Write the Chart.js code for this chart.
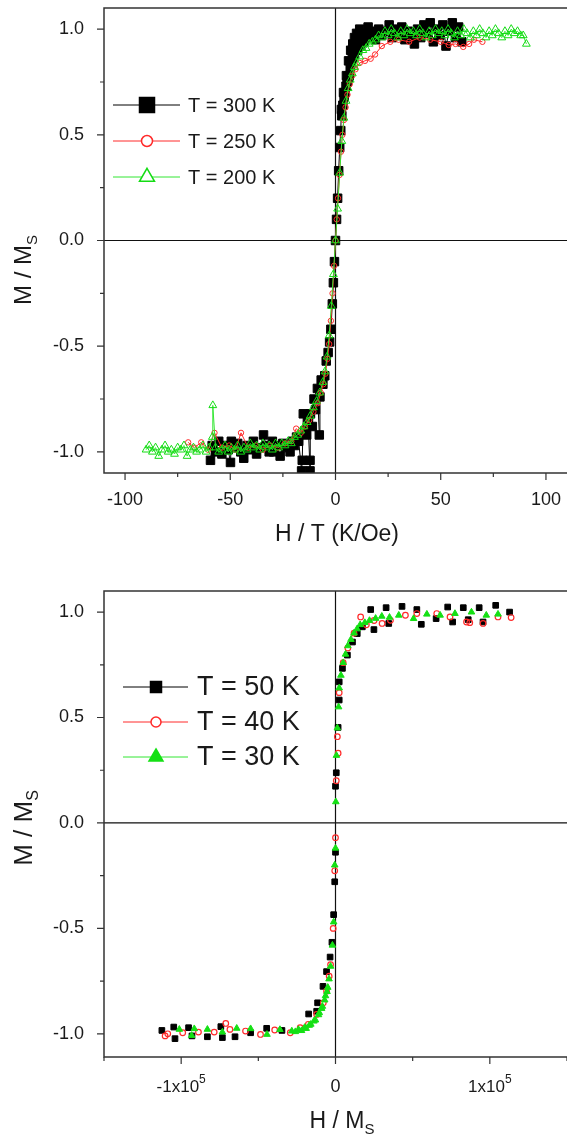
<!DOCTYPE html>
<html>
<head>
<meta charset="utf-8">
<script src="https://cdn.jsdelivr.net/npm/chart.js@4.4.1/dist/chart.umd.min.js"></script>
<style>
  html, body { margin: 0; padding: 0; background: #fff; }
  #wrap { position: relative; width: 567px; height: 1137px; overflow: hidden; }
  .box { position: absolute; left: 0; width: 567px; }
  #top { top: 0; height: 560px; }
  #bottom { top: 560px; height: 577px; }
</style>
</head>
<body>
<div id="wrap">
  <div class="box" id="top"><canvas id="chartTop"></canvas></div>
  <div class="box" id="bottom"><canvas id="chartBottom"></canvas></div>
</div>
<script>
const FONT = "'Liberation Sans', Arial, sans-serif";

// ---- panel a : M/Ms vs H/T ----
const topLabels = ['T = 300 K', 'T = 250 K', 'T = 200 K'];

const t300 = [[-59.4,-1.04],[-58.6,-0.97],[-57,-1.0],[-55.5,-0.95],[-54,-1.01],[-52.5,-0.97],[-51,-0.99],[-49.9,-1.05],[-49.5,-0.95],[-48,-0.98],
  [-46.5,-0.96],[-45,-1.0],[-43.6,-1.03],[-42,-0.97],[-40.5,-0.99],[-39,-0.95],[-37.5,-1.01],[-36,-0.98],[-34.2,-0.92],[-33,-0.97],
  [-31.5,-1.0],[-30,-0.95],[-29.4,-1.0],[-28,-0.97],[-26.3,-1.02],[-25,-0.96],[-23.5,-0.98],[-21.6,-1.0],[-20.5,-0.95],[-19.5,-0.97],
  [-18.5,-0.93],[-17.5,-0.95],[-16.1,-1.09],[-15.8,-1.04],[-15.3,-0.82],[-14.5,-0.9],[-13.7,-0.92],[-13,-0.86],[-12.1,-1.09],[-12.1,-1.04],
  [-11.9,-0.82],[-11,-0.88],[-10.2,-0.75],[-9.5,-0.8],[-8.6,-0.7],[-7.7,-0.92],[-7.4,-0.74],[-6.8,-0.66],[-6,-0.68],[-5.1,-0.64],
  [-4.4,-0.57],[-3.5,-0.53],[-2.8,-0.48],[-2.2,-0.42],[-1.5,-0.3],[-1,-0.2],[-0.5,-0.1],[0,0],[0.5,0.1],[1,0.2],
  [1.5,0.33],[2,0.44],[2.5,0.52],[2.8,0.62],[3,0.59],[3.5,0.64],[3.8,0.7],[4.1,0.68],[4.5,0.7],[5,0.73],[5.2,0.78],[5.5,0.75],[6,0.77],
  [6.2,0.85],[6.5,0.78],[7,0.82],[7.2,0.9],[7.5,0.84],[8,0.86],[8.2,0.93],[8.8,0.88],[9,0.96],[9.6,0.93],[10,0.98],[10.5,0.9],[11,0.95],[11.5,1.0],[12,0.92],[12.5,0.97],
  [13.5,0.94],[14.4,0.98],[15.5,1.01],[16.5,0.96],[17.5,0.99],[19,0.95],[20.5,1.0],[22,0.97],[24,0.99],[25.5,1.02],
  [27,0.96],[28.5,1.0],[30,0.97],[31.5,1.01],[33,0.95],[34.5,0.99],[36,0.97],[37.5,0.93],[39,1.0],[40.5,0.96],
  [42,1.02],[43.5,0.98],[45,1.03],[46.5,0.94],[48,1.0],[49.5,0.97],[51,1.02],[52.5,0.92],[54,0.99],[55.5,1.03],
  [57,0.96],[58.5,1.01],[60,0.94]];

const t250 = [[-70,-0.955],[-67,-0.98],[-63.8,-0.955],[-60.5,-0.99],[-57.5,-0.91],[-54,-0.98],[-50.5,-0.97],[-47.5,-0.99],[-44.9,-0.91],[-41.5,-0.98],
  [-38,-0.97],[-34.5,-0.99],[-31,-0.97],[-27.5,-0.98],[-24,-0.96],[-21,-0.95],[-18.7,-0.89],[-16.5,-0.91],[-14.5,-0.88],[-12.5,-0.85],
  [-10.5,-0.81],[-8.5,-0.77],[-7,-0.72],[-5.8,-0.68],[-4.8,-0.63],[-3.8,-0.56],[-3,-0.49],[-2.2,-0.38],[-1.4,-0.25],[-0.7,-0.12],
  [0,0],[0.6,0.1],[1.2,0.2],[1.9,0.31],[2.6,0.42],[3.3,0.5],[4,0.57],[4.8,0.63],[5.7,0.69],[6.8,0.74],
  [8,0.78],[9.5,0.81],[11.5,0.84],[14,0.85],[16.7,0.86],[18.8,0.88],[22,0.92],[26,0.94],[30,0.95],[35,0.94],
  [40,0.96],[45,0.95],[50,0.94],[53.8,0.925],[57,0.93],[60.7,0.916],[63.5,0.93],[65.8,0.95],[69.8,0.94]];

const t200 = [[-90,-0.99],[-88.5,-0.97],[-87,-1.0],[-85.5,-0.98],[-84,-1.02],[-82.5,-0.99],[-81,-0.97],[-79.5,-1.0],[-78,-0.99],[-76.5,-1.01],
  [-75,-0.98],[-73.5,-0.99],[-72,-0.97],[-70.5,-1.02],[-69,-0.99],[-67.5,-0.98],[-66,-1.0],[-64.5,-0.99],[-63,-0.97],[-61.5,-1.0],
  [-60,-0.98],[-58.5,-0.93],[-58.3,-0.78],[-57,-0.98],[-55.5,-1.0],[-54,-0.99],[-52.5,-0.97],[-51,-1.0],[-49.5,-0.98],[-48,-0.99],
  [-46.5,-0.97],[-45,-1.0],[-43.5,-0.98],[-42,-0.99],[-40.5,-0.96],[-39,-0.98],[-37.5,-0.97],[-36,-0.99],[-34.5,-0.96],[-33,-0.98],
  [-31.5,-0.97],[-30,-0.99],[-28.5,-0.96],[-27,-0.98],[-25.5,-0.96],[-24,-0.97],[-22.5,-0.95],[-21,-0.96],[-19.5,-0.93],[-18,-0.92],
  [-16.5,-0.9],[-15,-0.88],[-13.5,-0.86],[-12,-0.83],[-10.5,-0.79],[-9,-0.76],[-7.5,-0.72],[-6,-0.67],[-5,-0.62],[-4,-0.55],
  [-3,-0.45],[-2,-0.31],[-1,-0.16],[0,0],[1,0.15],[2,0.32],[3,0.47],[4,0.58],[5,0.66],[6,0.72],
  [7,0.76],[8,0.79],[9,0.82],[10,0.84],[11.5,0.87],[13,0.9],[14.5,0.91],[16,0.93],[17.5,0.94],[19,0.95],
  [20.5,0.97],[22,0.96],[23.5,0.99],[25,0.97],[26.5,1.0],[28,0.98],[29.5,0.96],[31,0.99],[32.5,0.97],[34,1.0],
  [35.5,0.98],[37,0.99],[38.5,0.97],[40,1.0],[41.5,0.98],[43,0.96],[44.5,0.99],[46,0.97],[47.5,1.0],[49,0.98],
  [50.5,0.99],[52,0.97],[53.5,1.0],[55,0.98],[56.5,0.96],[58,0.99],[59.5,0.97],[61,1.0],[62.5,0.98],[64,0.96],
  [65.5,0.99],[67,0.97],[68.5,1.0],[70,0.98],[71.5,0.96],[73,0.99],[74.5,0.97],[76,1.0],[77.5,0.98],[79,0.96],
  [80.5,0.99],[82,0.97],[83.5,1.0],[85,0.98],[86.5,0.99],[88,0.97],[89.2,0.97],[90.7,0.93]];

const topXTicks = [-100, -75, -50, -25, 0, 25, 50, 75, 100];
const topXMajor = [-100, -50, 0, 50, 100];

// ---- panel b : M/Ms vs H/Ms ----
const bottomLabels = ['T = 50 K', 'T = 40 K', 'T = 30 K'];

const t50 = [[-112500,-0.984],[-104800,-0.968],[-104000,-1.023],[-95200,-0.971],[-93000,-1.01],[-83000,-1.014],[-74300,-0.966],[-73300,-1.018],[-65100,-1.014],[-55000,-0.995],
  [-44600,-0.974],[-34700,-0.984],[-17400,-0.906],[-12200,-0.893],[-11600,-0.853],[-8100,-0.775],[-5800,-0.705],[-3500,-0.636],[-2300,-0.566],[-1200,-0.435],
  [-500,-0.279],[0,-0.139],[0,0.174],[500,0.238],[1700,0.453],[2400,0.583],[2400,0.669],[4500,0.733],[7700,0.796],[11000,0.858],
  [14100,0.898],[17400,0.93],[22800,1.012],[24900,0.917],[32800,1.021],[34500,0.946],[43100,1.027],[52700,1.012],[55600,0.942],[65200,0.969],
  [72700,1.024],[75900,0.953],[82800,1.021],[86000,0.964],[93100,1.021],[95600,0.953],[103800,1.032],[112800,1.0]];

const t40 = [[-110400,-1.01],[-108700,-1.0],[-99000,-0.995],[-88800,-0.992],[-78600,-0.992],[-71100,-0.951],[-68400,-0.979],[-58300,-0.987],[-48600,-1.003],[-39400,-0.982],
  [-29300,-0.995],[-22900,-0.971],[-17600,-0.955],[-12200,-0.908],[-7900,-0.853],[-5800,-0.798],[-4100,-0.727],[-3200,-0.672],[-1500,-0.5],[-500,-0.227],
  [0,-0.07],[500,0.2],[1200,0.409],[1700,0.331],[2400,0.618],[5000,0.76],[8000,0.83],[12000,0.9],[16300,0.977],[20000,0.94],
  [25000,0.96],[30200,0.946],[35600,0.961],[45300,0.985],[52700,0.993],[65600,0.993],[74200,0.977],[84900,0.953],[87000,0.95],[95600,0.946],
  [105300,0.977],[113800,0.974]];

const t30 = [[-101200,-0.979],[-93200,-1.008],[-91500,-0.976],[-83000,-0.979],[-73300,-0.992],[-64000,-0.974],[-55000,-0.976],[-44400,-1.003],[-36000,-0.98],[-28300,-0.987],
  [-26000,-0.99],[-24000,-0.98],[-22000,-0.985],[-20000,-0.97],[-19000,-0.975],[-17000,-0.96],[-16000,-0.955],[-14000,-0.94],[-13000,-0.935],[-11000,-0.91],
  [-10500,-0.9],[-9000,-0.88],[-8500,-0.87],[-7000,-0.84],[-6500,-0.82],[-5500,-0.8],[-5000,-0.78],[-4200,-0.74],[-3200,-0.68],[-2000,-0.58],
  [-1200,-0.47],[-500,-0.2],[0,-0.12],[200,0.1],[600,0.32],[1200,0.45],[2000,0.55],[2400,0.64],[3500,0.7],[5000,0.76],
  [6500,0.8],[8000,0.84],[10000,0.87],[12000,0.9],[14000,0.92],[16000,0.94],[19000,0.95],[22000,0.96],[26000,0.97],[30000,0.98],
  [35000,0.975],[41000,0.985],[50600,0.969],[59200,0.99],[67800,0.985],[77400,0.993],[88100,1.0],[97700,0.985],[105300,0.99]];

const bottomXTicks = [-150000, -100000, -50000, 0, 50000, 100000, 150000];
const bottomXMajor = [-100000, 0, 100000];

const yTicks = [-1, -0.75, -0.5, -0.25, 0, 0.25, 0.5, 0.75, 1];
const yMajor = [-1, -0.5, 0, 0.5, 1];

function toPts(arr) {
  return arr.map(([x, y]) => ({ x, y }));
}

// texto con subindices / superindices
function drawRich(ctx, parts, x, y, align) {
  let w = 0;
  parts.forEach(p => { ctx.font = p.s + 'px ' + FONT; w += ctx.measureText(p.t).width; });
  let cx = align === 'center' ? x - w / 2 : x;
  ctx.textAlign = 'left';
  ctx.textBaseline = 'alphabetic';
  parts.forEach(p => {
    ctx.font = p.s + 'px ' + FONT;
    ctx.fillText(p.t, cx, y + (p.dy || 0));
    cx += ctx.measureText(p.t).width;
  });
}

function drawMarker(ctx, style, x, y, size, color, filled) {
  ctx.beginPath();
  if (style === 'rect') {
    ctx.rect(x - size / 2, y - size / 2, size, size);
  } else if (style === 'circle') {
    ctx.arc(x, y, size / 2, 0, Math.PI * 2);
  } else {
    const h = size * 0.866;
    ctx.moveTo(x, y - h * 2 / 3);
    ctx.lineTo(x + size / 2, y + h / 3);
    ctx.lineTo(x - size / 2, y + h / 3);
    ctx.closePath();
  }
  ctx.fillStyle = filled ? color : '#fff';
  ctx.fill();
  ctx.strokeStyle = color;
  ctx.lineWidth = 1.5;
  ctx.stroke();
}

const framePlugin = {
  id: 'frame',
  beforeDatasetsDraw(chart) {
    const { ctx, chartArea: a, scales } = chart;
    const x0 = scales.x.getPixelForValue(0);
    const y0 = scales.y.getPixelForValue(0);
    ctx.save();
    ctx.strokeStyle = '#111';
    ctx.lineWidth = 1.2;
    ctx.beginPath();
    ctx.moveTo(x0, a.top); ctx.lineTo(x0, a.bottom);
    ctx.moveTo(a.left, y0); ctx.lineTo(a.right, y0);
    ctx.stroke();
    ctx.restore();
  },
  afterDraw(chart, args, o) {
    const { ctx, chartArea: a, scales } = chart;
    ctx.save();
    // marco
    ctx.strokeStyle = '#333';
    ctx.lineWidth = 1.5;
    ctx.beginPath();
    ctx.moveTo(a.right + 2, a.top); ctx.lineTo(a.left, a.top);
    ctx.lineTo(a.left, a.bottom); ctx.lineTo(a.right + 2, a.bottom);
    ctx.stroke();

    // marcas de los ejes
    ctx.lineWidth = 1.2;
    ctx.beginPath();
    scales.x.ticks.forEach(t => {
      const px = scales.x.getPixelForValue(t.value);
      const len = o.xMajor.includes(t.value) ? 7 : 4;
      ctx.moveTo(px, a.bottom); ctx.lineTo(px, a.bottom + len);
    });
    scales.y.ticks.forEach(t => {
      const py = scales.y.getPixelForValue(t.value);
      const len = yMajor.includes(t.value) ? 7 : 4;
      ctx.moveTo(a.left, py); ctx.lineTo(a.left - len, py);
    });
    ctx.stroke();

    ctx.fillStyle = '#1a1a1a';
    // etiquetas x en notacion cientifica
    if (o.sciLabels) {
      scales.x.ticks.forEach(t => {
        if (!o.xMajor.includes(t.value)) return;
        const px = scales.x.getPixelForValue(t.value);
        let parts;
        if (t.value === 0) {
          parts = [{ t: '0', s: 18 }];
        } else {
          const e = Math.round(Math.log10(Math.abs(t.value)));
          const m = Math.abs(t.value) / Math.pow(10, e);
          parts = [{ t: (t.value < 0 ? '-' : '') + m + 'x10', s: 17 }, { t: String(e), s: 12, dy: -9 }];
        }
        drawRich(ctx, parts, px, o.sciY, 'center');
      });
    }

    // titulos de los ejes
    drawRich(ctx, o.xTitle, o.xTitleX, o.xTitleY, 'center');
    ctx.save();
    ctx.translate(o.yTitleX, o.yTitleY);
    ctx.rotate(-Math.PI / 2);
    drawRich(ctx, o.yTitle, 0, 0, 'center');
    ctx.restore();

    // leyenda
    const L = o.legend;
    chart.data.datasets.forEach((ds, i) => {
      const y = L.y0 + i * L.dy;
      ctx.strokeStyle = ds.borderColor;
      ctx.lineWidth = 1;
      ctx.beginPath();
      ctx.moveTo(L.x1, y); ctx.lineTo(L.x2, y);
      ctx.stroke();
      drawMarker(ctx, ds.pointStyle, L.mx, y, L.sizes[i], ds.pointBorderColor, ds.legendFilled);
      ctx.fillStyle = '#1a1a1a';
      ctx.font = L.font + 'px ' + FONT;
      ctx.textAlign = 'left';
      ctx.textBaseline = 'middle';
      ctx.fillText(ds.label, L.tx, y + 1);
    });
    ctx.restore();
  }
};

function makeScales(xMin, xMax, xTicks, xMajor, xHeight, yMin, yMax, xLabelFn) {
  return {
    x: {
      type: 'linear', min: xMin, max: xMax,
      afterBuildTicks: s => { s.ticks = xTicks.map(v => ({ value: v })); },
      // tamano fijo del eje y sin relleno extra
      afterFit: s => { s.height = xHeight; s.paddingLeft = 0; s.paddingRight = 0; s.paddingTop = 0; s.paddingBottom = 0; },
      grid: { display: false, drawTicks: false },
      border: { display: false },
      ticks: {
        autoSkip: false, maxRotation: 0, padding: 16, color: '#1a1a1a',
        font: { family: FONT, size: 18 },
        callback: xLabelFn
      }
    },
    y: {
      type: 'linear', min: yMin, max: yMax,
      afterBuildTicks: s => { s.ticks = yTicks.map(v => ({ value: v })); },
      afterFit: s => { s.width = 104; s.paddingLeft = 0; s.paddingRight = 0; s.paddingTop = 0; s.paddingBottom = 0; },
      grid: { display: false, drawTicks: false },
      border: { display: false },
      ticks: {
        autoSkip: false, padding: 20, color: '#1a1a1a',
        font: { family: FONT, size: 18 },
        callback: v => yMajor.includes(v) ? v.toFixed(1) : ''
      }
    }
  };
}

const topChart = new Chart(document.getElementById('chartTop'), {
  type: 'scatter',
  data: {
    datasets: [
      { label: topLabels[0], data: toPts(t300), showLine: true, borderColor: '#000', borderWidth: 1,
        pointStyle: 'rect', pointRadius: 6, pointBackgroundColor: '#000', pointBorderColor: '#000', pointBorderWidth: 1,
        legendFilled: true, order: 3 },
      { label: topLabels[1], data: toPts(t250), showLine: true, borderColor: '#ff2a2a', borderWidth: 1,
        pointStyle: 'circle', pointRadius: 2.7, pointBackgroundColor: 'rgba(0,0,0,0)', pointBorderColor: '#ff2a2a', pointBorderWidth: 1,
        legendFilled: false, order: 2 },
      { label: topLabels[2], data: toPts(t200), showLine: true, borderColor: '#33e633', borderWidth: 1,
        pointStyle: 'triangle', pointRadius: 4.5, pointBackgroundColor: 'rgba(0,0,0,0)', pointBorderColor: '#14dc14', pointBorderWidth: 1,
        legendFilled: false, order: 1 }
    ]
  },
  options: {
    responsive: true, maintainAspectRatio: false, animation: false,
    layout: { autoPadding: false, padding: { top: 8, right: 0, left: 0, bottom: 0 } },
    plugins: {
      legend: { display: false },
      tooltip: { enabled: false },
      frame: {
        xMajor: topXMajor,
        xTitle: [{ t: 'H / T (K/Oe)', s: 23 }], xTitleX: 337, xTitleY: 541,
        yTitle: [{ t: 'M / M', s: 24 }, { t: 'S', s: 15, dy: 6 }], yTitleX: 31, yTitleY: 270,
        legend: { x1: 113, x2: 180, mx: 147, tx: 188, y0: 105, dy: 36, font: 20, sizes: [15, 11, 15] }
      }
    },
    scales: makeScales(-110, 110, topXTicks, topXMajor, 87, -1.1, 1.1,
      v => topXMajor.includes(v) ? String(v) : '')
  },
  plugins: [framePlugin]
});

const bottomChart = new Chart(document.getElementById('chartBottom'), {
  type: 'scatter',
  data: {
    datasets: [
      { label: bottomLabels[0], data: toPts(t50), showLine: false, borderColor: '#000', borderWidth: 1,
        pointStyle: 'rect', pointRadius: 4, pointBackgroundColor: '#000', pointBorderColor: '#000', pointBorderWidth: 1,
        legendFilled: true, order: 3 },
      { label: bottomLabels[1], data: toPts(t40), showLine: false, borderColor: '#ff2a2a', borderWidth: 1,
        pointStyle: 'circle', pointRadius: 2.8, pointBackgroundColor: 'rgba(0,0,0,0)', pointBorderColor: '#ff2a2a', pointBorderWidth: 1.2,
        legendFilled: false, order: 2 },
      { label: bottomLabels[2], data: toPts(t30), showLine: false, borderColor: '#33e633', borderWidth: 1,
        pointStyle: 'triangle', pointRadius: 3.8, pointBackgroundColor: '#14e014', pointBorderColor: '#14e014', pointBorderWidth: 1,
        legendFilled: true, order: 1 }
    ]
  },
  options: {
    responsive: true, maintainAspectRatio: false, animation: false,
    layout: { autoPadding: false, padding: { top: 31, right: 0, left: 0, bottom: 0 } },
    plugins: {
      legend: { display: false },
      tooltip: { enabled: false },
      frame: {
        xMajor: bottomXMajor, sciLabels: true, sciY: 532,
        xTitle: [{ t: 'H / M', s: 23 }, { t: 'S', s: 15, dy: 6 }], xTitleX: 342, xTitleY: 568,
        yTitle: [{ t: 'M / M', s: 26 }, { t: 'S', s: 16, dy: 6 }], yTitleX: 32, yTitleY: 268,
        legend: { x1: 123, x2: 188, mx: 156, tx: 197, y0: 127, dy: 35, font: 27, sizes: [11, 10, 14] }
      }
    },
    scales: makeScales(-150000, 150000, bottomXTicks, bottomXMajor, 80, -1.11, 1.1, () => '')
  },
  plugins: [framePlugin]
});
</script>
</body>
</html>
